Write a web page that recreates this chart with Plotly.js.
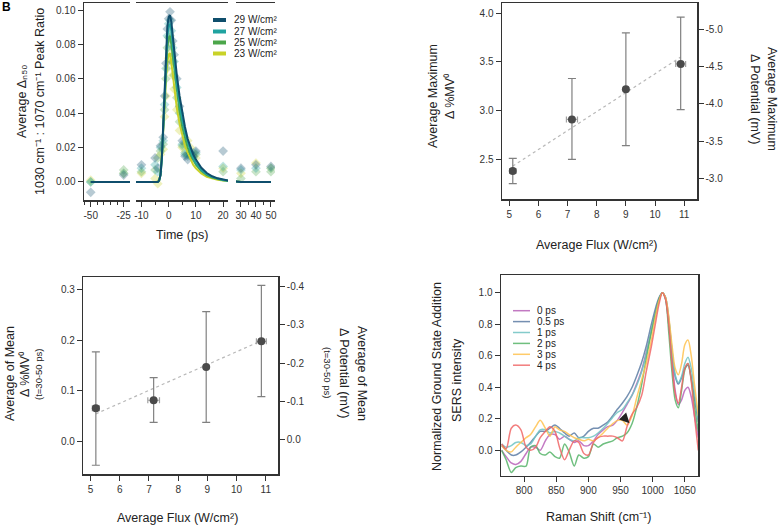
<!DOCTYPE html>
<html><head><meta charset="utf-8">
<script src="https://cdn.plot.ly/plotly-3.0.1.min.js"></script>
<style>html,body{margin:0;padding:0;background:#fff}#c{width:779px;height:526px}</style>
</head><body><div id="c"></div>
<script>
// ---------- Panel A data ----------
const aNames = ['29 W/cm²','27 W/cm²','25 W/cm²','23 W/cm²'];
const aColors = ['#0f4e6c','#20a3a0','#4ca64a','#c9d228'];
const aTime = [-50,-25,-10,-5,-4,-3,-2,-1.5,-1,-0.5,0,0.5,1,1.5,2,3,4,5,6,7,8,9,10,20,30,40,50];
const a29 = [-0.006,0.004,0.010,0.014,0.008,0.021,0.026,0.050,0.069,0.089,0.095,0.099,0.094,0.082,0.074,0.060,0.044,0.024,0.015,0.013,0.017,0.015,0.018,0.018,0.008,0.010,0.009];
const a27 = [0.000,0.005,0.008,0.010,0.006,0.020,0.024,0.045,0.066,0.085,0.092,0.094,0.088,0.078,0.070,0.055,0.040,0.022,0.016,0.015,0.016,0.014,0.017,0.009,0.007,0.008,0.008];
const a25 = [0.000,0.007,0.006,0.007,0.014,0.018,0.022,0.042,0.060,0.078,0.084,0.085,0.080,0.070,0.062,0.049,0.035,0.021,0.017,0.016,0.015,0.017,0.016,0.006,0.002,0.006,0.006];
const a23 = [0.001,0.005,0.005,0.002,-0.001,0.016,0.019,0.038,0.050,0.066,0.072,0.075,0.070,0.062,0.054,0.042,0.030,0.020,0.022,0.024,0.020,0.015,0.014,0.008,0.005,0.011,0.008];
const fitTime = [-50,-4,-3.5,-3,-2.5,-2,-1.5,-1,-0.5,0,0.5,1,1.5,2,2.5,3,4,5,6,7,8,9,10,12,14,16,18,20,22,30,50];
const fit29 = [0,0,0.0008,0.004,0.014,0.033,0.056,0.076,0.090,0.096,0.097,0.093,0.085,0.077,0.069,0.062,0.050,0.040,0.032,0.025,0.020,0.016,0.013,0.0082,0.0052,0.0033,0.0021,0.0013,0.0008,0,0];
const fit27 = [0,0,0.0008,0.004,0.014,0.032,0.053,0.072,0.085,0.091,0.092,0.088,0.080,0.072,0.064,0.057,0.046,0.036,0.029,0.023,0.018,0.014,0.011,0.007,0.0045,0.0028,0.0018,0.0011,0.0007,0,0];
const fit25 = [0,0,0.0008,0.004,0.014,0.030,0.049,0.066,0.078,0.084,0.085,0.080,0.073,0.065,0.058,0.052,0.041,0.032,0.026,0.020,0.016,0.013,0.010,0.0063,0.004,0.0025,0.0016,0.001,0.0006,0,0];
const fit23 = [0,0,0.001,0.005,0.016,0.032,0.047,0.060,0.070,0.074,0.075,0.070,0.063,0.056,0.049,0.043,0.034,0.027,0.021,0.017,0.013,0.010,0.008,0.005,0.003,0.002,0.0012,0.0008,0.0005,0,0];
const aYTicks = [0,0.02,0.04,0.06,0.08,0.10];
const aYTickText = ['0.00','0.02','0.04','0.06','0.08','0.10'];

// ---------- Panel B data ----------
const bFlux = [5.12,7.15,9.0,10.88];
const bFluxErr = [0.11,0.19,0.05,0.17];
const bMax = [2.38,2.91,3.22,3.48];
const bUpper = [2.51,3.33,3.80,3.96];
const bLower = [2.25,2.50,2.64,3.01];
const bFitX = [5.12,10.88];
const bFitY = [2.43,3.55];
const bRightTicks = [-5.0,-4.5,-4.0,-3.5,-3.0];
const bRightText = ['-5.0','-4.5','-4.0','-3.5','-3.0'];

// ---------- Panel C data ----------
const cFlux = [5.18,7.16,8.96,10.85];
const cFluxErr = [0.12,0.2,0.04,0.17];
const cMean = [0.065,0.081,0.147,0.198];
const cUpper = [0.177,0.126,0.257,0.309];
const cLower = [-0.048,0.037,0.037,0.088];
const cFitX = [5.18,10.85];
const cFitY = [0.054,0.199];
const cRightTicks = [0,-0.1,-0.2,-0.3,-0.4];
const cRightText = ['0.0','-0.1','-0.2','-0.3','-0.4'];

// ---------- Panel D data ----------
const dNames = ['0 ps','0.5 ps','1 ps','2 ps','3 ps','4 ps'];
const dColors = ['#b862b8','#5d7ca4','#6fc3c3','#56b468','#ffc24f','#f06666'];
const dShift = [765,772,780,787,795,803,810,818,825,833,840,848,855,863,870,878,885,893,900,908,915,923,930,938,945,953,960,968,975,983,990,998,1005,1010,1015,1020,1025,1030,1035,1040,1045,1050,1055,1060,1065,1071];
const d0 = [0.0,-0.04,-0.08,-0.09,-0.07,-0.02,0.02,0.02,0.0,0.06,0.10,0.10,0.07,0.09,0.07,0.05,0.06,0.03,0.03,0.06,0.10,0.13,0.15,0.16,0.19,0.24,0.29,0.35,0.42,0.51,0.62,0.76,0.89,0.96,1.0,0.96,0.80,0.58,0.38,0.29,0.32,0.38,0.40,0.34,0.22,0.08];
const d05 = [0.03,0.0,-0.03,-0.03,-0.01,0.02,0.05,0.09,0.12,0.12,0.14,0.16,0.14,0.11,0.09,0.11,0.08,0.09,0.12,0.14,0.14,0.16,0.18,0.22,0.26,0.30,0.34,0.40,0.47,0.56,0.66,0.80,0.91,0.97,1.0,0.97,0.83,0.63,0.47,0.42,0.46,0.52,0.54,0.46,0.33,0.18];
const d1 = [0.04,0.02,0.03,0.05,0.05,0.03,0.04,0.09,0.13,0.13,0.11,0.12,0.11,0.09,0.07,0.06,0.08,0.08,0.08,0.09,0.11,0.14,0.17,0.21,0.24,0.26,0.30,0.35,0.41,0.50,0.61,0.76,0.88,0.95,1.0,0.97,0.84,0.64,0.48,0.43,0.47,0.55,0.59,0.52,0.37,0.20];
const d2 = [0.0,-0.06,-0.14,-0.11,-0.10,-0.10,0.02,0.03,-0.02,-0.03,-0.01,-0.04,-0.05,0.04,-0.01,-0.10,-0.03,-0.05,-0.04,0.04,0.02,0.04,0.05,0.06,0.08,0.09,0.11,0.17,0.27,0.42,0.58,0.75,0.88,0.96,1.0,0.96,0.75,0.50,0.32,0.27,0.38,0.51,0.55,0.45,0.28,0.12];
const d3 = [0.03,0.0,-0.01,0.02,0.05,0.08,0.10,0.15,0.19,0.14,0.09,0.15,0.13,0.12,0.10,0.08,0.07,0.06,0.07,0.06,0.08,0.11,0.14,0.17,0.19,0.19,0.16,0.22,0.33,0.45,0.55,0.70,0.86,0.95,1.0,0.97,0.85,0.67,0.52,0.48,0.55,0.67,0.70,0.60,0.42,0.22];
const d4 = [0.04,0.01,0.14,0.16,0.13,0.02,0.0,0.02,0.08,0.12,0.15,0.12,0.02,-0.06,0.0,0.06,0.05,-0.02,-0.03,0.05,0.08,0.09,0.09,0.09,0.08,0.06,0.15,0.23,0.27,0.35,0.50,0.66,0.82,0.93,1.0,0.96,0.80,0.55,0.36,0.30,0.40,0.52,0.55,0.44,0.22,0.0];
const dArrowFrom = [949,0.235];
const dArrowTo = [964,0.172];

// ---------- helpers ----------
const W = 779, H = 526;
const px = v => v / W;
const py = v => 1 - v / H;
const FONT = 'Liberation Sans, Arial, sans-serif';
const INK = '#333';
const base = {showline:true, linecolor:INK, linewidth:1.5, ticks:'outside', ticklen:5, tickwidth:1, tickcolor:INK,
  showgrid:false, zeroline:false, tickfont:{size:10, color:INK, family:FONT}, fixedrange:true};

const traces = [];
const aVals = [a29,a27,a25,a23];
const aFits = [fit29,fit27,fit25,fit23];
const segs = ['x','x2','x3'];
for (let i = 3; i >= 0; i--) {
  segs.forEach(xa => {
    traces.push({x:aTime, y:aVals[i], xaxis:xa, yaxis:'y', mode:'markers', type:'scatter', showlegend:false,
      marker:{symbol:'diamond', size:7.5, color:aColors[i], opacity:0.3}});
  });
}
for (let i = 3; i >= 0; i--) {
  segs.forEach(xa => {
    traces.push({x:fitTime, y:aFits[i], xaxis:xa, yaxis:'y', mode:'lines', type:'scatter', showlegend:false,
      line:{color:aColors[i], width:2}});
  });
}
traces.push({x:bFitX, y:bFitY, xaxis:'x4', yaxis:'y4', mode:'lines', showlegend:false,
  line:{color:'#b8b8b8', width:1.2, dash:'3px,3px'}});
traces.push({x:bFlux, y:bMax, xaxis:'x4', yaxis:'y4', mode:'markers', showlegend:false,
  marker:{color:'#4a4a4a', size:8},
  error_y:{type:'data', symmetric:false, array:bUpper.map((u,i)=>u-bMax[i]), arrayminus:bLower.map((l,i)=>bMax[i]-l), color:'#808080', thickness:1.2, width:4},
  error_x:{type:'data', array:bFluxErr, color:'#a0a0a0', thickness:1.2, width:3}});
traces.push({x:[], y:[], xaxis:'x4', yaxis:'y5', mode:'markers', showlegend:false});
traces.push({x:cFitX, y:cFitY, xaxis:'x6', yaxis:'y6', mode:'lines', showlegend:false,
  line:{color:'#b8b8b8', width:1.2, dash:'3px,3px'}});
traces.push({x:cFlux, y:cMean, xaxis:'x6', yaxis:'y6', mode:'markers', showlegend:false,
  marker:{color:'#4a4a4a', size:8},
  error_y:{type:'data', symmetric:false, array:cUpper.map((u,i)=>u-cMean[i]), arrayminus:cLower.map((l,i)=>cMean[i]-l), color:'#808080', thickness:1.2, width:4},
  error_x:{type:'data', array:cFluxErr, color:'#a0a0a0', thickness:1.2, width:3}});
traces.push({x:[], y:[], xaxis:'x6', yaxis:'y7', mode:'markers', showlegend:false});
const dVals = [d0,d05,d1,d2,d3,d4];
dVals.forEach((v,i) => traces.push({x:dShift, y:v, xaxis:'x8', yaxis:'y8', mode:'lines', name:dNames[i], showlegend:false,
  line:{color:dColors[i], width:1.5, shape:'spline', smoothing:0.8}, opacity:0.85}));

const ann = [];
function txt(text, x, y, angle, size, extra) {
  ann.push(Object.assign({text:text, xref:'paper', yref:'paper', x:px(x), y:py(y), showarrow:false,
    textangle:angle||0, font:{family:FONT, size:size||12.5, color:'#222'}, xanchor:'center', yanchor:'middle'}, extra||{}));
}
txt('<b>B</b>', 6, 7, 0, 12, {font:{family:FONT, size:12, color:'#000'}});
txt('Average Δₙ₅₀', 22, 102, -90);
txt('1030 cm⁻¹ : 1070 cm⁻¹ Peak Ratio', 40, 102, -90);
txt('Time (ps)', 182, 235, 0);
txt('Average Maximum', 433, 96, -90);
txt('Δ %MV⁰', 450, 96, -90);
txt('Average Maximum', 772, 99, 90);
txt('Δ Potential (mV)', 755, 99, 90);
txt('Average Flux (W/cm²)', 596, 245, 0);
txt('Average of Mean', 10, 374, -90);
txt('Δ %MV⁰', 25, 374, -90);
txt('(t=30-50 ps)', 38, 374, -90, 9.5);
txt('Average of Mean', 362, 373, 90);
txt('Δ Potential (mV)', 344, 373, 90);
txt('(t=30-50 ps)', 328, 373, 90, 9.5);
txt('Average Flux (W/cm²)', 177, 518, 0);
txt('Normalized Ground State Addition', 437, 377, -90);
txt('SERS intensity', 457, 380, -90);
txt('Raman Shift (cm⁻¹)', 598, 517, 0);
ann.push({xref:'x8', yref:'y8', axref:'x8', ayref:'y8', x:dArrowTo[0], y:dArrowTo[1], ax:dArrowFrom[0], ay:dArrowFrom[1],
  showarrow:true, arrowhead:2, arrowsize:2, arrowwidth:1, arrowcolor:'#222', text:' ', font:{size:10}});

const shapes = [];
const aLegY = [20, 31.5, 42.5, 53.5];
aNames.forEach((n,i) => {
  shapes.push({type:'line', xref:'paper', yref:'paper', x0:px(213), x1:px(226), y0:py(aLegY[i]), y1:py(aLegY[i]), line:{color:aColors[i], width:4}});
  txt(n, 232, aLegY[i], 0, 10, {xanchor:'left'});
});
const dLegY = [310.7, 321.6, 332.5, 343.4, 354.3, 365.2];
dNames.forEach((n,i) => {
  shapes.push({type:'line', xref:'paper', yref:'paper', x0:px(513), x1:px(530), y0:py(dLegY[i]), y1:py(dLegY[i]), line:{color:dColors[i], width:1.5}, opacity:0.85});
  txt(n, 535, dLegY[i], 0, 10, {xanchor:'left'});
});

const layout = {
  width:W, height:H, margin:{l:0,r:0,t:0,b:0}, paper_bgcolor:'#fff', plot_bgcolor:'rgba(0,0,0,0)',
  font:{family:FONT, color:INK}, showlegend:false,
  xaxis:Object.assign({}, base, {domain:[px(84),px(130)], range:[-55.1,-20.2], anchor:'y', mirror:true,
    tickvals:[-50,-25], ticktext:['-50','-25'], minor:{dtick:5, tick0:0, ticks:'outside', ticklen:3, tickcolor:INK}}),
  xaxis2:Object.assign({}, base, {domain:[px(136),px(228)], range:[-12,21.8], anchor:'y', mirror:true,
    tickvals:[-10,0,10,20], ticktext:['-10','0','10','20'], minor:{dtick:5, tick0:0, ticks:'outside', ticklen:3, tickcolor:INK}}),
  xaxis3:Object.assign({}, base, {domain:[px(236),px(275)], range:[26.7,52.7], anchor:'y', mirror:true,
    tickvals:[30,40,50], ticktext:['30','40','50'], minor:{dtick:5, tick0:0, ticks:'outside', ticklen:3, tickcolor:INK}}),
  yaxis:Object.assign({}, base, {domain:[py(200),py(3)], range:[-0.0105,0.1041], anchor:'x', tickvals:aYTicks, ticktext:aYTickText}),
  xaxis4:Object.assign({}, base, {domain:[px(502),px(697)], range:[4.75,11.44], anchor:'y4', mirror:true, dtick:1}),
  yaxis4:Object.assign({}, base, {domain:[py(199),py(3)], range:[2.092,4.106], anchor:'x4', dtick:0.5, tickformat:'.1f'}),
  yaxis5:Object.assign({}, base, {overlaying:'y4', side:'right', anchor:'x4', range:[-2.722,-5.353], tickvals:bRightTicks, ticktext:bRightText}),
  xaxis6:Object.assign({}, base, {domain:[px(83.3),px(278.3)], range:[4.75,11.43], anchor:'y6', mirror:true, dtick:1}),
  yaxis6:Object.assign({}, base, {domain:[py(474.3),py(277.3)], range:[-0.066,0.325], anchor:'x6', dtick:0.1, tickformat:'.1f'}),
  yaxis7:Object.assign({}, base, {overlaying:'y6', side:'right', anchor:'x6', range:[0.0917,-0.4246], tickvals:cRightTicks, ticktext:cRightText}),
  xaxis8:Object.assign({}, base, {domain:[px(501),px(698.3)], range:[764,1071], anchor:'y8', mirror:true, dtick:50}),
  yaxis8:Object.assign({}, base, {domain:[py(475.7),py(275)], range:[-0.161,1.112], anchor:'x8', mirror:true, dtick:0.2, tickformat:'.1f'}),
  annotations:ann, shapes:shapes
};
Plotly.newPlot('c', traces, layout, {staticPlot:true, displayModeBar:false});
</script></body></html>
